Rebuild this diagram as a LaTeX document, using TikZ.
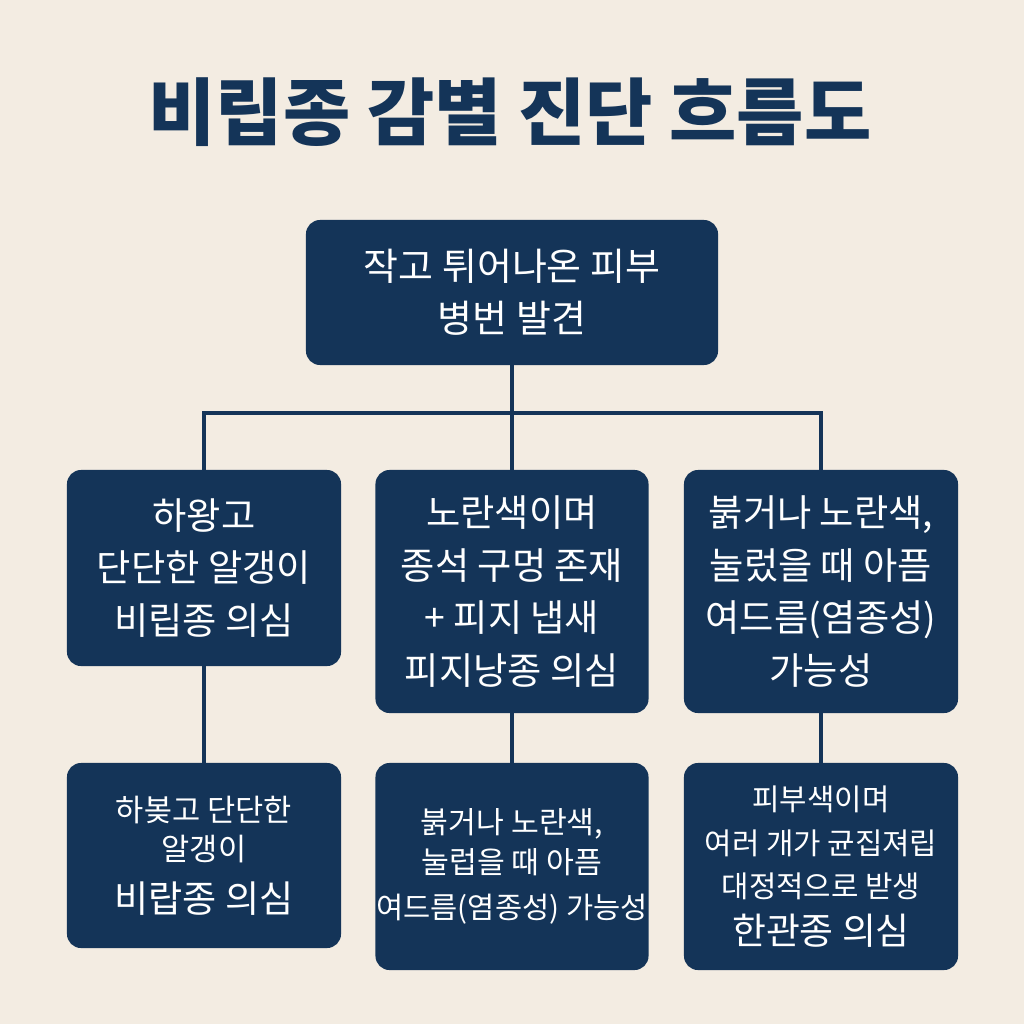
\documentclass[tikz,border=0pt]{standalone}
\usepackage{fontspec}
\setmainfont{Noto Sans CJK KR}
\definecolor{paper}{RGB}{243,236,226}
\definecolor{navy}{RGB}{20,52,88}

\begin{document}
\begin{tikzpicture}[x=0.025cm, y=-0.025cm,
        box/.style={fill=navy, rounded corners=10pt, text=white, align=center,
            inner sep=0pt, font=\fontsize{26.5}{37.5}\selectfont},
        link/.style={draw=navy, line width=2.8pt}]
            \fill[paper] (0, 0) rectangle (1024, 1024);
            \useasboundingbox (0, 0) rectangle (1024, 1024);

            \node[text=navy, font=\fontsize{52}{60}\selectfont\bfseries] (title) at (510, 112) {비립종 감별 진단 흐름도};

            \node[box, minimum width=10.3cm, minimum height=3.625cm, font=\fontsize{27}{37}\selectfont]
                (start) at (512, 292.5) {작고 튀어나온 피부\\병번 발견};

            \node[box, minimum width=6.85cm, minimum height=4.9cm]
                (milia) at (204, 568) {하왕고\\단단한 알갱이\\비립종 의심};
            \node[box, minimum width=6.825cm, minimum height=6.075cm]
                (cyst) at (512, 591.5) {노란색이며\\종석 구멍 존재\\+ 피지 냅새\\피지낭종 의심};
            \node[box, minimum width=6.85cm, minimum height=6.075cm]
                (acne) at (821, 591.5) {붉거나 노란색,\\눌렀을 때 아픔\\여드름(염종성)\\가능성};

            \node[box, minimum width=6.85cm, minimum height=4.625cm, font=\fontsize{21.8}{28}\selectfont]
                (milianote) at (204, 855.5) {하봊고 단단한\\알갱이\\[9pt]{\fontsize{26.4}{28}\selectfont 비랍종 의심}};
            \node[box, minimum width=6.825cm, minimum height=5.175cm, font=\fontsize{21.5}{28}\selectfont]
                (acnenote) at (512, 866.5) {붉거나 노란색,\\눌럽을 때 아픔\\[4pt]{\fontsize{21}{28}\selectfont 여드름(염종성) 가능성}};
            \node[box, minimum width=6.85cm, minimum height=5.175cm, font=\fontsize{21.2}{31}\selectfont]
                (syringoma) at (821, 866.5) {피부색이며\\여러 개가 균집져립\\대정적으로 받생\\[2pt]{\fontsize{26.2}{31}\selectfont 한관종 의심}};

            \coordinate (split) at (512, 413);
            \draw[link] (start) -- (split);
            \draw[link] (milia.north) |- (split) -| (acne.north);
            \draw[link] (split) -- (cyst);

            \foreach \a/\b in {milia/milianote, cyst/acnenote, acne/syringoma}
                {
                    \draw[link] (\a) -- (\b);
                }
    \end{tikzpicture}
\end{document}
